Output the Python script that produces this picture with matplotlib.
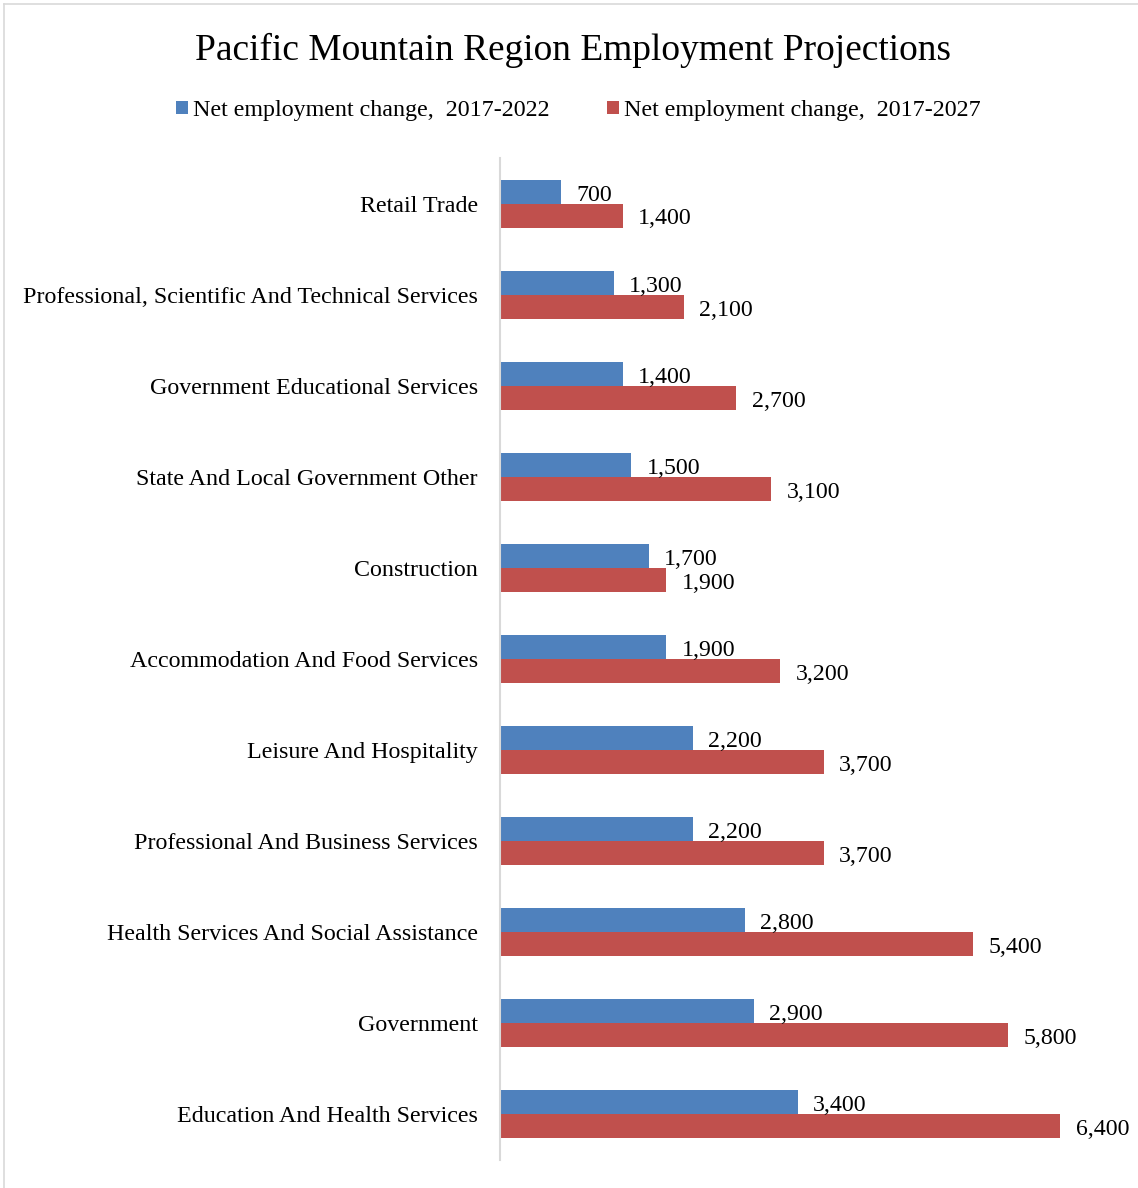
import matplotlib.pyplot as plt
from matplotlib.lines import Line2D
import numpy as np

plt.rcParams['font.family'] = ['Liberation Serif', 'DejaVu Serif']

industries = [
    'Retail Trade',
    'Professional, Scientific And Technical Services',
    'Government Educational Services',
    'State And Local Government Other',
    'Construction',
    'Accommodation And Food Services',
    'Leisure And Hospitality',
    'Professional And Business Services',
    'Health Services And Social Assistance',
    'Government',
    'Education And Health Services',
]
change_2022 = [700, 1300, 1400, 1500, 1700, 1900, 2200, 2200, 2800, 2900, 3400]
change_2027 = [1400, 2100, 2700, 3100, 1900, 3200, 3700, 3700, 5400, 5800, 6400]

series_labels = ['Net employment change,  2017-2022', 'Net employment change,  2017-2027']
colors = ['#4F81BD', '#C0504D']

fig = plt.figure(figsize=(11.38, 11.88), dpi=100)
ax = fig.add_axes([0.4394, 0.0236, 0.5386, 0.8434])

y = np.arange(len(industries))
h = 0.263
b1 = ax.barh(y - h / 2, change_2022, height=h, color=colors[0], label=series_labels[0])
b2 = ax.barh(y + h / 2, change_2027, height=h, color=colors[1], label=series_labels[1])

for bars, vals in [(b1, change_2022), (b2, change_2027)]:
    for bar, v in zip(bars, vals):
        ax.annotate(f'{v:,}', (bar.get_width(), bar.get_y() + bar.get_height() / 2),
                    xytext=(11, -2.5), textcoords='offset points',
                    ha='left', va='center', fontsize=17.2, color='black')

ax.set_ylim(len(industries) - 0.5, -0.5)
ax.set_xlim(0, 7000)
ax.set_yticks(y)
ax.set_yticklabels(industries, fontsize=17.3)
ax.tick_params(axis='y', length=0, pad=16)
ax.set_xticks([])
for s in ['top', 'right', 'bottom']:
    ax.spines[s].set_visible(False)
ax.spines['left'].set_color('#d9d9d9')
ax.spines['left'].set_linewidth(1.5)

fig.text(0.5035, 0.9575, 'Pacific Mountain Region Employment Projections',
         ha='center', va='center', fontsize=26.9)
fig.legend(handles=[b1, b2], loc='center', bbox_to_anchor=(0.508, 0.907), ncol=2,
           frameon=False, fontsize=17.3, handlelength=0.5, handleheight=0.5,
           handletextpad=0.2, columnspacing=2.4)

# thin grey frame on the left and top edges
fig.add_artist(Line2D([0.0035, 0.0035], [0, 0.9966], color='#d9d9d9', lw=1.2))
fig.add_artist(Line2D([0.0035, 1], [0.9966, 0.9966], color='#d9d9d9', lw=1.2))

fig.savefig('out.png', dpi=100)
